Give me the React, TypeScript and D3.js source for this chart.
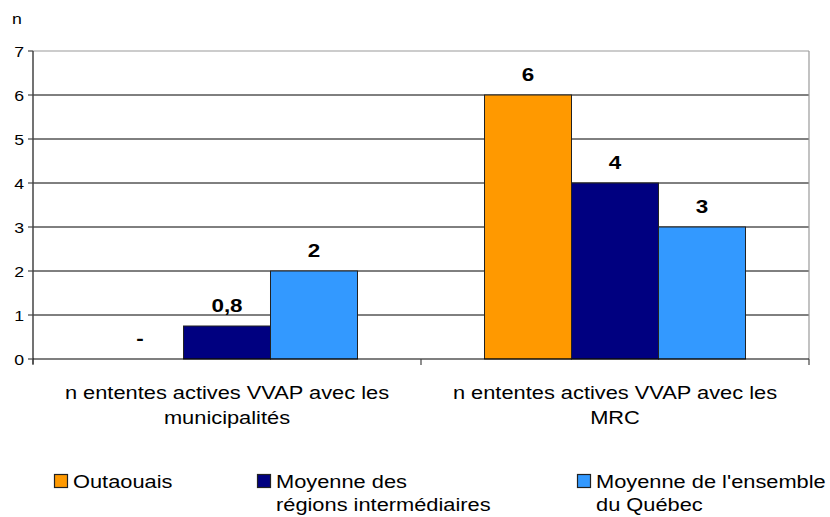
import React from "react";
import * as d3 from "d3";

const categories = [
  ["n ententes actives VVAP avec les", "municipalités"],
  ["n ententes actives VVAP avec les", "MRC"],
];
const seriesNames = ["Outaouais", "Moyenne des régions intermédiaires", "Moyenne de l'ensemble du Québec"];
const legendLines = [["Outaouais"], ["Moyenne des", "régions intermédiaires"], ["Moyenne de l'ensemble", "du Québec"]];
const seriesColors = ["#FF9900", "#000080", "#3399FF"];
// values[series][category]
const values = [
  [0, 6],
  [0.75, 4],
  [2, 3],
];
const valueLabels = [
  ["-", "6"],
  ["0,8", "4"],
  ["2", "3"],
];
const yTicks = [0, 1, 2, 3, 4, 5, 6, 7];

const W = 830;
const H = 517;
const left = 33;
const right = 809;
const top = 51;
const bottom = 359;
const SX = 1.18;
const FONT = "Arial, 'Liberation Sans', sans-serif";

export default function App() {
  const y = d3.scaleLinear().domain([0, 7]).range([bottom, top]);
  const x0 = d3.scaleBand<number>().domain(categories.map((_, i) => i)).range([left, right]).padding(0);
  const x1 = d3
    .scaleBand<number>()
    .domain(seriesNames.map((_, i) => i))
    .range([0, x0.bandwidth()])
    .paddingInner(0)
    .paddingOuter(0.73);

  const legendX = [54, 257, 577];

  return (
    <svg width={W} height={H} style={{ position: "absolute", left: 0, top: 0, background: "#fff" }} fontFamily={FONT}>
      {/* gridlines */}
      {yTicks.slice(1, -1).map((t) => (
        <line key={t} x1={left} x2={right} y1={y(t)} y2={y(t)} stroke="#000" strokeWidth={1} />
      ))}
      {/* top & right border */}
      <line x1={left} x2={right} y1={y(7)} y2={y(7)} stroke="#9a9a9a" strokeWidth={1.2} />
      <line x1={right} x2={right} y1={y(7)} y2={bottom} stroke="#9a9a9a" strokeWidth={1.2} />

      {/* bars */}
      {values.map((vals, s) =>
        vals.map((v, c) =>
          v > 0 ? (
            <rect
              key={`${s}-${c}`}
              x={(x0(c) as number) + (x1(s) as number)}
              y={y(v)}
              width={x1.bandwidth()}
              height={bottom - y(v)}
              fill={seriesColors[s]}
              stroke="#222"
              strokeWidth={1}
            />
          ) : null
        )
      )}

      {/* value labels */}
      {values.map((vals, s) =>
        vals.map((v, c) => (
          <text
            key={`l${s}-${c}`}
            transform={`translate(${(x0(c) as number) + (x1(s) as number) + x1.bandwidth() / 2},${y(v) - 14}) scale(${SX},1)`}
            textAnchor="middle"
            fontWeight="bold"
            fontSize={19}
            fill="#000"
          >
            {valueLabels[s][c]}
          </text>
        ))
      )}

      {/* y axis */}
      <line x1={left} x2={left} y1={top} y2={bottom + 5} stroke="#444" strokeWidth={1.5} />
      {yTicks.map((t) => (
        <g key={`yt${t}`}>
          <line x1={left - 5} x2={left} y1={y(t)} y2={y(t)} stroke="#444" strokeWidth={1.2} />
          <text
            transform={`translate(${left - 9},${y(t) + 5.5}) scale(${SX},1)`}
            textAnchor="end"
            fontSize={15}
            fill="#000"
          >
            {t}
          </text>
        </g>
      ))}
      <text transform={`translate(17,24) scale(${SX},1)`} textAnchor="middle" fontSize={15} fill="#000">
        n
      </text>

      {/* x axis */}
      <line x1={left} x2={right} y1={bottom} y2={bottom} stroke="#000" strokeWidth={1.2} />
      {[0, 1, 2].map((i) => {
        const xx = left + i * x0.step();
        return <line key={`xt${i}`} x1={xx} x2={xx} y1={bottom} y2={bottom + 6} stroke="#444" strokeWidth={1.2} />;
      })}
      {categories.map((lines, c) =>
        lines.map((ln, k) => (
          <text
            key={`c${c}-${k}`}
            transform={`translate(${(x0(c) as number) + x0.bandwidth() / 2},${399 + k * 25}) scale(${SX},1)`}
            textAnchor="middle"
            fontSize={18.5}
            fill="#000"
          >
            {ln}
          </text>
        ))
      )}

      {/* legend */}
      {legendLines.map((lines, s) => (
        <g key={`lg${s}`}>
          <rect x={legendX[s] + 0.5} y={474.5} width={13} height={13} fill={seriesColors[s]} stroke="#222" strokeWidth={1.2} />
          {lines.map((ln, k) => (
            <text
              key={k}
              transform={`translate(${legendX[s] + 19},${488 + k * 23}) scale(${SX},1)`}
              fontSize={18.5}
              fill="#000"
            >
              {ln}
            </text>
          ))}
        </g>
      ))}
    </svg>
  );
}
